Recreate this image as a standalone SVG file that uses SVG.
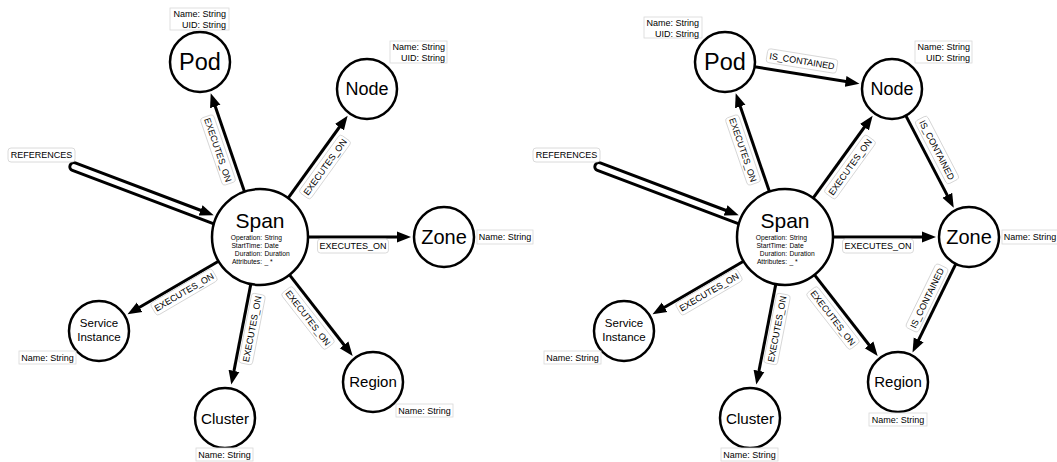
<svg xmlns="http://www.w3.org/2000/svg" width="1057" height="462" viewBox="0 0 1057 462">
<defs>
<marker id="ah" markerUnits="userSpaceOnUse" markerWidth="16" markerHeight="12" viewBox="0 -6 16 12" refX="2" refY="0" orient="auto">
<path d="M0,-5.5 L14,0 L0,5.5 z" fill="#000"/>
</marker>
<style>
text{font-family:"Liberation Sans",Arial,sans-serif;fill:#000}
.node circle{fill:#fff;stroke:#000;stroke-width:2.5}
.cap{text-anchor:middle}
.edge{stroke:#000;stroke-width:3;fill:none;marker-end:url(#ah)}
.loop{stroke:#000;stroke-width:3;fill:none;marker-end:url(#ah)}
.lbl rect{fill:#fff;stroke:#d0d0d0;stroke-width:0.8}
.lbl text{font-size:9px;text-anchor:middle}
.prop rect{fill:#fff;stroke:#d8d8d8;stroke-width:0.8}
.prop text{font-size:9px}
.pe{text-anchor:end}
.pm{text-anchor:middle}
.sp{font-size:6.7px}
</style>
</defs>
<rect width="1057" height="462" fill="#fff"/>

<g id="connectors">
<!-- left graph -->
<path class="loop" transform="translate(260,237) rotate(200.7)" d="M47.8,-4 L199,-4 A4,4 0 0 1 199,4 L63,4"/>
<line class="edge" x1="244.4" y1="191.6" x2="214.6" y2="104.6"/>
<line class="edge" x1="288.1" y1="198.1" x2="340.6" y2="125.5"/>
<line class="edge" x1="308" y1="237" x2="399" y2="237"/>
<line class="edge" x1="218.5" y1="261.2" x2="137.9" y2="308.3"/>
<line class="edge" x1="250.8" y1="284.1" x2="233.6" y2="372.8"/>
<line class="edge" x1="289.5" y1="274.9" x2="345.3" y2="346.5"/>
<g class="lbl"><rect x="8" y="148" width="67" height="14" rx="3"/><text x="41.5" y="158.2">REFERENCES</text></g>
<g class="lbl" transform="translate(218,150) rotate(71.1)"><rect x="-35.5" y="-7" width="71" height="14" rx="3"/><text y="3.2">EXECUTES_ON</text></g>
<g class="lbl" transform="translate(325,167) rotate(-54.1)"><rect x="-35.5" y="-7" width="71" height="14" rx="3"/><text y="3.2">EXECUTES_ON</text></g>
<g class="lbl" transform="translate(353,246)"><rect x="-35.5" y="-7" width="71" height="14" rx="3"/><text y="3.2">EXECUTES_ON</text></g>
<g class="lbl" transform="translate(184,292) rotate(-30.3)"><rect x="-35.5" y="-7" width="71" height="14" rx="3"/><text y="3.2">EXECUTES_ON</text></g>
<g class="lbl" transform="translate(252,329) rotate(-79)"><rect x="-35.5" y="-7" width="71" height="14" rx="3"/><text y="3.2">EXECUTES_ON</text></g>
<g class="lbl" transform="translate(308,318) rotate(52.1)"><rect x="-35.5" y="-7" width="71" height="14" rx="3"/><text y="3.2">EXECUTES_ON</text></g>

<!-- right graph -->
<path class="loop" transform="translate(785,237) rotate(200.7)" d="M47.8,-4 L199,-4 A4,4 0 0 1 199,4 L63,4"/>
<line class="edge" x1="769.4" y1="191.6" x2="739.6" y2="104.6"/>
<line class="edge" x1="813.1" y1="198.1" x2="865.6" y2="125.5"/>
<line class="edge" x1="833" y1="237" x2="924" y2="237"/>
<line class="edge" x1="743.5" y1="261.2" x2="662.9" y2="308.3"/>
<line class="edge" x1="775.8" y1="284.1" x2="758.6" y2="372.8"/>
<line class="edge" x1="814.5" y1="274.9" x2="870.3" y2="346.5"/>
<line class="edge" x1="754.6" y1="66.8" x2="847.6" y2="81.8"/>
<line class="edge" x1="905.8" y1="115.6" x2="948.2" y2="197.1"/>
<line class="edge" x1="955.8" y1="263.9" x2="917.8" y2="341.6"/>
<g class="lbl"><rect x="533" y="148" width="67" height="14" rx="3"/><text x="566.5" y="158.2">REFERENCES</text></g>
<g class="lbl" transform="translate(743,150) rotate(71.1)"><rect x="-35.5" y="-7" width="71" height="14" rx="3"/><text y="3.2">EXECUTES_ON</text></g>
<g class="lbl" transform="translate(850,167) rotate(-54.1)"><rect x="-35.5" y="-7" width="71" height="14" rx="3"/><text y="3.2">EXECUTES_ON</text></g>
<g class="lbl" transform="translate(878,246)"><rect x="-35.5" y="-7" width="71" height="14" rx="3"/><text y="3.2">EXECUTES_ON</text></g>
<g class="lbl" transform="translate(709,292) rotate(-30.3)"><rect x="-35.5" y="-7" width="71" height="14" rx="3"/><text y="3.2">EXECUTES_ON</text></g>
<g class="lbl" transform="translate(777,329) rotate(-79)"><rect x="-35.5" y="-7" width="71" height="14" rx="3"/><text y="3.2">EXECUTES_ON</text></g>
<g class="lbl" transform="translate(833,318) rotate(52.1)"><rect x="-35.5" y="-7" width="71" height="14" rx="3"/><text y="3.2">EXECUTES_ON</text></g>
<g class="lbl" transform="translate(802,61) rotate(9.2)"><rect x="-35.5" y="-7" width="71" height="14" rx="3"/><text y="3.2">IS_CONTAINED</text></g>
<g class="lbl" transform="translate(937,150) rotate(62.5)"><rect x="-35.5" y="-7" width="71" height="14" rx="3"/><text y="3.2">IS_CONTAINED</text></g>
<g class="lbl" transform="translate(927,298) rotate(-63.9)"><rect x="-35.5" y="-7" width="71" height="14" rx="3"/><text y="3.2">IS_CONTAINED</text></g>
</g>

<!-- left graph nodes -->
<g id="span" class="node" transform="translate(260,237)">
<circle r="48"/>
<text class="cap" y="-9" font-size="21">Span</text>
<text class="sp" y="3"><tspan x="2" text-anchor="end">Operation:</tspan><tspan x="4.5">String</tspan></text>
<text class="sp" y="11"><tspan x="2" text-anchor="end">StartTime:</tspan><tspan x="4.5">Date</tspan></text>
<text class="sp" y="19"><tspan x="2" text-anchor="end">Duration:</tspan><tspan x="4.5">Duration</tspan></text>
<text class="sp" y="27"><tspan x="2" text-anchor="end">Attributes:</tspan><tspan x="4.5">_ *</tspan></text>
</g>
<g id="pod" class="node" transform="translate(200,62)">
<circle r="30"/>
<text class="cap" y="8.4" font-size="23.5">Pod</text>
<g class="prop"><rect x="-30" y="-54" width="59" height="22"/><text class="pe" x="26" y="-45">Name: String</text><text class="pe" x="26" y="-34.5">UID: String</text></g>
</g>
<g id="node" class="node" transform="translate(367,89)">
<circle r="30"/>
<text class="cap" y="6.4" font-size="18">Node</text>
<g class="prop"><rect x="23" y="-48" width="57" height="22"/><text class="pe" x="78" y="-39">Name: String</text><text class="pe" x="78" y="-28">UID: String</text></g>
</g>
<g id="zone" class="node" transform="translate(444,237)">
<circle r="30"/>
<text class="cap" y="7" font-size="20">Zone</text>
<g class="prop"><rect x="33" y="-7" width="56" height="14"/><text class="pm" x="61" y="3">Name: String</text></g>
</g>
<g id="service-instance" class="node" transform="translate(99,331)">
<circle r="30"/>
<text class="cap" y="-4" font-size="11.5">Service</text>
<text class="cap" y="10" font-size="11.5">Instance</text>
<g class="prop"><rect x="-80" y="20" width="57" height="13"/><text class="pm" x="-51.5" y="29.5">Name: String</text></g>
</g>
<g id="cluster" class="node" transform="translate(225,418)">
<circle r="30"/>
<text class="cap" y="5.5" font-size="15.2">Cluster</text>
<g class="prop"><rect x="-29" y="30" width="57" height="13"/><text class="pm" x="-0.5" y="39.5">Name: String</text></g>
</g>
<g id="region" class="node" transform="translate(373,382)">
<circle r="30"/>
<text class="cap" y="5.4" font-size="15">Region</text>
<g class="prop"><rect x="23" y="22" width="57" height="13"/><text class="pm" x="51.5" y="31.5">Name: String</text></g>
</g>

<!-- right graph nodes -->
<g id="span-2" class="node" transform="translate(785,237)">
<circle r="48"/>
<text class="cap" y="-9" font-size="21">Span</text>
<text class="sp" y="3"><tspan x="2" text-anchor="end">Operation:</tspan><tspan x="4.5">String</tspan></text>
<text class="sp" y="11"><tspan x="2" text-anchor="end">StartTime:</tspan><tspan x="4.5">Date</tspan></text>
<text class="sp" y="19"><tspan x="2" text-anchor="end">Duration:</tspan><tspan x="4.5">Duration</tspan></text>
<text class="sp" y="27"><tspan x="2" text-anchor="end">Attributes:</tspan><tspan x="4.5">_ *</tspan></text>
</g>
<g id="pod-2" class="node" transform="translate(725,62)">
<circle r="30"/>
<text class="cap" y="8.4" font-size="23.5">Pod</text>
<g class="prop"><rect x="-81" y="-45" width="58" height="21"/><text class="pe" x="-26" y="-36">Name: String</text><text class="pe" x="-26" y="-25.5">UID: String</text></g>
</g>
<g id="node-2" class="node" transform="translate(892,89)">
<circle r="30"/>
<text class="cap" y="6.4" font-size="18">Node</text>
<g class="prop"><rect x="23" y="-48" width="57" height="22"/><text class="pe" x="78" y="-39">Name: String</text><text class="pe" x="78" y="-28">UID: String</text></g>
</g>
<g id="zone-2" class="node" transform="translate(969,237)">
<circle r="30"/>
<text class="cap" y="7" font-size="20">Zone</text>
<g class="prop"><rect x="33" y="-7" width="56" height="14"/><text class="pm" x="61" y="3">Name: String</text></g>
</g>
<g id="service-instance-2" class="node" transform="translate(624,331)">
<circle r="30"/>
<text class="cap" y="-4" font-size="11.5">Service</text>
<text class="cap" y="10" font-size="11.5">Instance</text>
<g class="prop"><rect x="-80" y="20" width="57" height="13"/><text class="pm" x="-51.5" y="29.5">Name: String</text></g>
</g>
<g id="cluster-2" class="node" transform="translate(750,418)">
<circle r="30"/>
<text class="cap" y="5.5" font-size="15.2">Cluster</text>
<g class="prop"><rect x="-29" y="30" width="57" height="13"/><text class="pm" x="-0.5" y="39.5">Name: String</text></g>
</g>
<g id="region-2" class="node" transform="translate(898,382)">
<circle r="30"/>
<text class="cap" y="5.4" font-size="15">Region</text>
<g class="prop"><rect x="-29" y="31" width="58" height="13"/><text class="pm" x="0" y="40.5">Name: String</text></g>
</g>
</svg>
